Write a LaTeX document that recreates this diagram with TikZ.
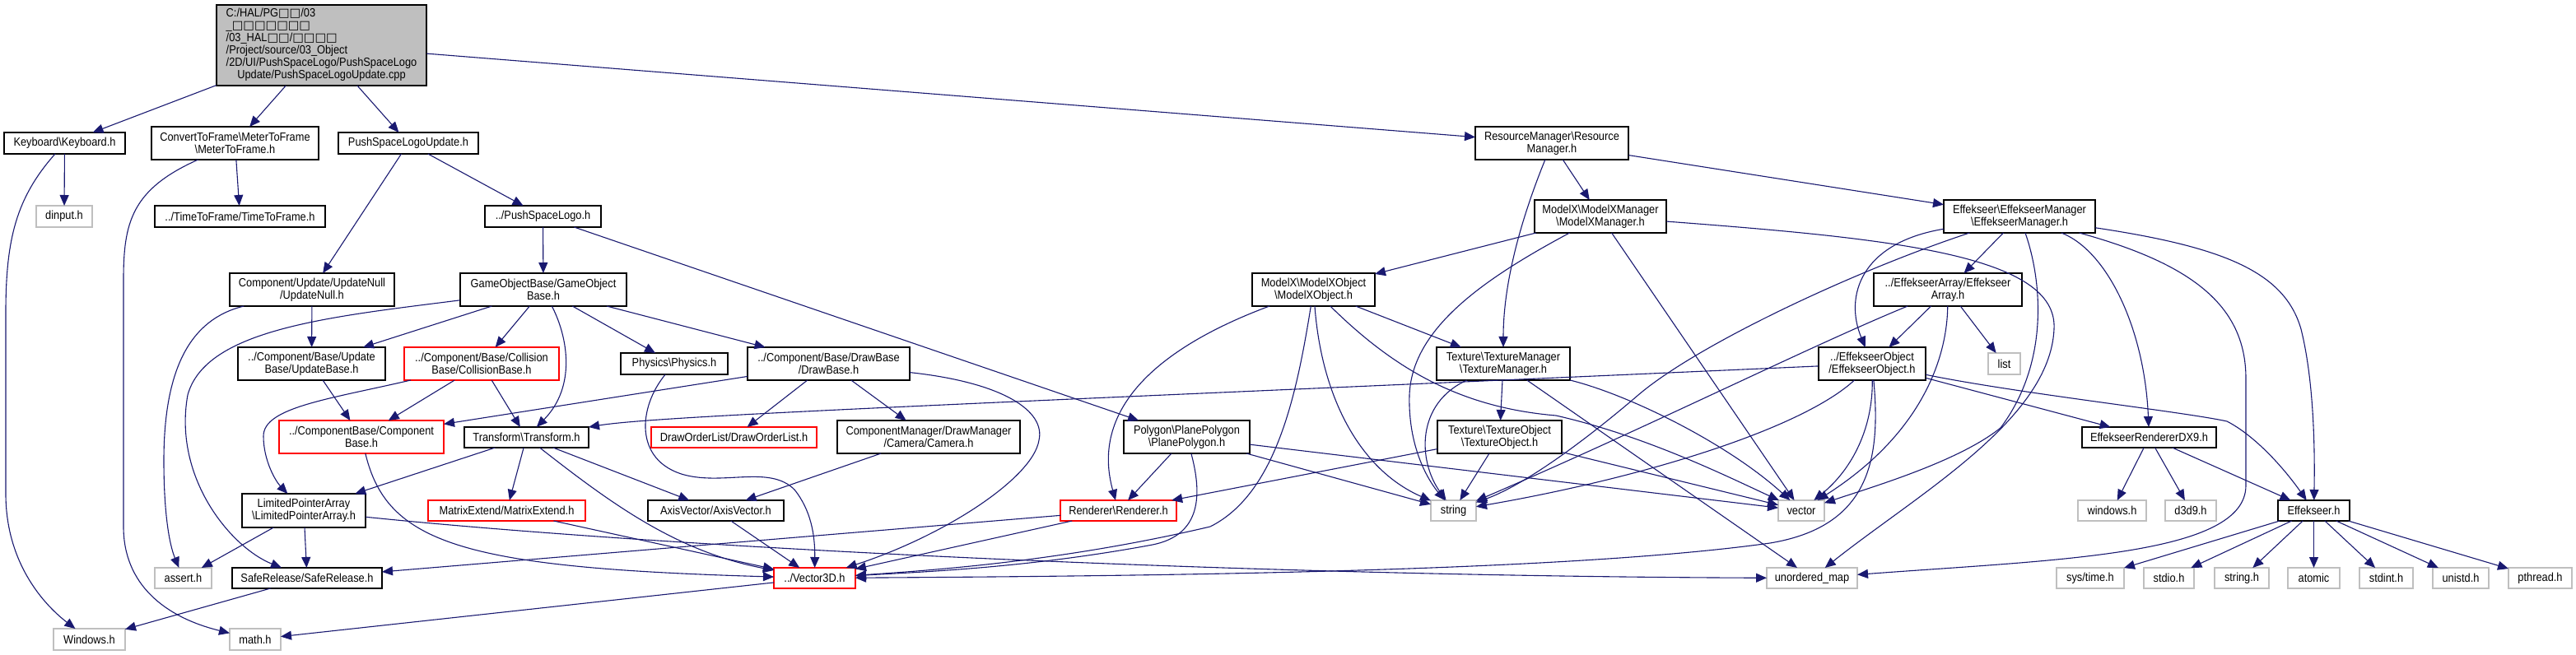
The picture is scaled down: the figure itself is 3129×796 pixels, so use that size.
\documentclass[tikz,border=0pt]{standalone}
\usepackage{fontspec}
\setmainfont{Liberation Sans}[FakeStretch=0.89]
\newfontfamily\symf{DejaVu Sans}
\usetikzlibrary{arrows.meta}
\definecolor{edgeblue}{HTML}{191970}
\definecolor{extgray}{HTML}{BFBFBF}
\newcommand\bsl{\textbackslash}
\newcommand\tf{{\symf\symbol{"25A1}}}
\newcommand\gnode[7]{\node[#6,minimum width={(#4-#2)*0.5pt},minimum height={(#5-#3)*0.5pt}] (#1) at ({(#2+#4)/2},{(#3+#5)/2}) {#7};}
\begin{document}
\begin{tikzpicture}[x=0.5pt,y=-0.5pt,
 box/.style={draw,line width=0.6pt,inner sep=0pt,outer sep=0pt,align=center,font=\fontsize{7.2pt}{7.4pt}\selectfont},
 doc/.style={box,draw=black,fill=white},
 ext/.style={box,draw=extgray,fill=white},
 trn/.style={box,draw=red,fill=white},
 rootbox/.style={box,draw=black,fill=extgray},
 ed/.style={draw=edgeblue,line width=0.55pt,-{Triangle[length=6.5pt,width=5.5pt]}}]
\useasboundingbox (0,0) rectangle (3129,796);
% nodes
\gnode{root}{263}{6}{518}{104}{rootbox}{\begin{tabular}{@{}l@{}}C:/HAL/PG\tf\tf/03\\ \_\tf\tf\tf\tf\tf\tf\tf\\ /03\_HAL\tf\tf/\tf\tf\tf\tf\\ /Project/source/03\_Object\\ /2D/UI/PushSpaceLogo/PushSpaceLogo\\ \multicolumn{1}{@{}c@{}}{Update/PushSpaceLogoUpdate.cpp}\end{tabular}}
\gnode{kb}{5}{161}{152}{187}{doc}{Keyboard\bsl Keyboard.h}
\gnode{m2f}{184}{154}{387}{194}{doc}{ConvertToFrame\bsl MeterToFrame\\\bsl MeterToFrame.h}
\gnode{psu}{411}{161}{581}{187}{doc}{PushSpaceLogoUpdate.h}
\gnode{dinput}{44}{250}{112}{276}{ext}{dinput.h}
\gnode{t2f}{188}{250}{395}{276}{doc}{../TimeToFrame/TimeToFrame.h}
\gnode{psl}{589}{250}{730}{276}{doc}{../PushSpaceLogo.h}
\gnode{unull}{279}{332}{479}{372}{doc}{Component/Update/UpdateNull\\/UpdateNull.h}
\gnode{gob}{559}{332}{761}{372}{doc}{GameObjectBase/GameObject\\Base.h}
\gnode{ubase}{289}{422}{468}{462}{doc}{../Component/Base/Update\\Base/UpdateBase.h}
\gnode{cbase}{491}{422}{679}{462}{trn}{../Component/Base/Collision\\Base/CollisionBase.h}
\gnode{phys}{754}{429}{884}{455}{doc}{Physics\bsl Physics.h}
\gnode{dbase}{908}{422}{1105}{462}{doc}{../Component/Base/DrawBase\\/DrawBase.h}
\gnode{compb}{339}{511}{539}{551}{trn}{../ComponentBase/Component\\Base.h}
\gnode{trans}{564}{519}{715}{544}{doc}{Transform\bsl Transform.h}
\gnode{dol}{791}{519}{992}{544}{trn}{DrawOrderList/DrawOrderList.h}
\gnode{cam}{1017}{511}{1239}{551}{doc}{ComponentManager/DrawManager\\/Camera/Camera.h}
\gnode{lpa}{294}{600}{444}{641}{doc}{LimitedPointerArray\\\bsl LimitedPointerArray.h}
\gnode{mext}{520}{608}{711}{633}{trn}{MatrixExtend/MatrixExtend.h}
\gnode{axis}{787}{608}{952}{633}{doc}{AxisVector/AxisVector.h}
\gnode{assert}{188}{690}{257}{715}{ext}{assert.h}
\gnode{safe}{282}{690}{464}{715}{doc}{SafeRelease/SafeRelease.h}
\gnode{win}{65}{764}{152}{790}{ext}{Windows.h}
\gnode{math}{279}{764}{341}{790}{ext}{math.h}
\gnode{v3d}{940}{690}{1039}{715}{trn}{../Vector3D.h}
\gnode{poly}{1365}{511}{1518}{551}{doc}{Polygon\bsl PlanePolygon\\\bsl PlanePolygon.h}
\gnode{rend}{1288}{608}{1429}{633}{trn}{Renderer\bsl Renderer.h}
\gnode{resm}{1792}{154}{1978}{194}{doc}{ResourceManager\bsl Resource\\Manager.h}
\gnode{mxm}{1864}{243}{2024}{283}{doc}{ModelX\bsl ModelXManager\\\bsl ModelXManager.h}
\gnode{mxo}{1521}{332}{1670}{372}{doc}{ModelX\bsl ModelXObject\\\bsl ModelXObject.h}
\gnode{texm}{1745}{422}{1907}{462}{doc}{Texture\bsl TextureManager\\\bsl TextureManager.h}
\gnode{texo}{1746}{511}{1897}{551}{doc}{Texture\bsl TextureObject\\\bsl TextureObject.h}
\gnode{str}{1738}{608}{1793}{633}{ext}{string}
\gnode{vec}{2160}{608}{2216}{633}{ext}{vector}
\gnode{umap}{2146}{690}{2256}{715}{ext}{unordered\_map}
\gnode{efm}{2361}{243}{2545}{283}{doc}{Effekseer\bsl EffekseerManager\\\bsl EffekseerManager.h}
\gnode{efa}{2276}{332}{2456}{372}{doc}{../EffekseerArray/Effekseer\\Array.h}
\gnode{efo}{2209}{422}{2339}{462}{doc}{../EffekseerObject\\/EffekseerObject.h}
\gnode{list}{2415}{429}{2454}{455}{ext}{list}
\gnode{efr}{2529}{519}{2692}{544}{doc}{EffekseerRendererDX9.h}
\gnode{wins}{2524}{608}{2607}{633}{ext}{windows.h}
\gnode{d3d9}{2630}{608}{2692}{633}{ext}{d3d9.h}
\gnode{eff}{2767}{608}{2854}{633}{doc}{Effekseer.h}
\gnode{systime}{2498}{690}{2580}{715}{ext}{sys/time.h}
\gnode{stdio}{2604}{690}{2665}{715}{ext}{stdio.h}
\gnode{stringh}{2690}{690}{2756}{715}{ext}{string.h}
\gnode{atomic}{2779}{690}{2842}{715}{ext}{atomic}
\gnode{stdint}{2866}{690}{2931}{715}{ext}{stdint.h}
\gnode{unistd}{2955}{690}{3023}{715}{ext}{unistd.h}
\gnode{pthread}{3047}{690}{3124}{715}{ext}{pthread.h}
% edges
\draw[ed] (root) -- (kb);
\draw[ed] (root) -- (m2f);
\draw[ed] (root) -- (psu);
\draw[ed] (root) -- (resm);
\draw[ed] (kb) -- (dinput);
\draw[ed] (kb) .. controls (20,240) and (7,290) .. (7,380) -- (7,600) .. controls (7,690) and (60,740) .. (win);
\draw[ed] (m2f) -- (t2f);
\draw[ed] (m2f) .. controls (160,230) and (150,270) .. (150,340) -- (150,640) .. controls (150,710) and (200,750) .. (math);
\draw[ed] (psu) -- (unull);
\draw[ed] (psu) -- (psl);
\draw[ed] (psl) -- (gob);
\draw[ed] (psl) -- (poly);
\draw[ed] (unull) -- (ubase);
\draw[ed] (unull) .. controls (230,388) and (199,450) .. (199,560) .. controls (199,620) and (205,660) .. (assert);
\draw[ed] (gob) -- (ubase);
\draw[ed] (gob) -- (cbase);
\draw[ed] (gob) .. controls (690,410) and (700,470) .. (trans);
\draw[ed] (gob) -- (phys);
\draw[ed] (gob) -- (dbase);
\draw[ed] (gob) .. controls (400,385) and (250,400) .. (228,480) .. controls (210,580) and (280,665) .. (safe);
\draw[ed] (ubase) -- (compb);
\draw[ed] (cbase) -- (compb);
\draw[ed] (cbase) -- (trans);
\draw[ed] (cbase) .. controls (400,485) and (320,495) .. (320,530) .. controls (320,560) and (335,585) .. (lpa);
\draw[ed] (trans) -- (lpa);
\draw[ed] (trans) -- (mext);
\draw[ed] (trans) .. controls (740,610) and (820,670) .. (v3d);
\draw[ed] (mext) -- (v3d);
\draw[ed] (trans) -- (axis);
\draw[ed] (compb) .. controls (470,660) and (560,690) .. (v3d);
\draw[ed] (lpa) -- (assert);
\draw[ed] (lpa) -- (safe);
\draw[ed] (lpa) .. controls (800,665) and (1500,700) .. (umap);
\draw[ed] (safe) -- (win);
\draw[ed] (v3d) -- (math);
\draw[ed] (phys) .. controls (775,495) and (770,560) .. (831,577) .. controls (880,590) and (935,565) .. (965,595) .. controls (985,620) and (990,650) .. (v3d);
\draw[ed] (dbase) -- (dol);
\draw[ed] (dbase) -- (cam);
\draw[ed] (dbase) -- (compb);
\draw[ed] (dbase) .. controls (1220,465) and (1270,500) .. (1262,535) .. controls (1255,580) and (1150,650) .. (v3d);
\draw[ed] (cam) -- (axis);
\draw[ed] (axis) -- (v3d);
\draw[ed] (poly) -- (rend);
\draw[ed] (poly) .. controls (1460,600) and (1460,650) .. (1400,662) .. controls (1250,690) and (1120,695) .. (v3d);
\draw[ed] (poly) -- (str);
\draw[ed] (poly) -- (vec);
\draw[ed] (rend) -- (v3d);
\draw[ed] (rend) -- (safe);
\draw[ed] (texo) -- (rend);
\draw[ed] (mxo) .. controls (1400,425) and (1325,500) .. (rend);
\draw[ed] (mxo) .. controls (1575,480) and (1550,600) .. (1470,640) .. controls (1300,680) and (1150,692) .. (v3d);
\draw[ed] (mxo) .. controls (1605,480) and (1650,570) .. (str);
\draw[ed] (mxo) -- (texm);
\draw[ed] (mxo) .. controls (1690,445) and (1770,495) .. (1890,505) .. controls (2000,530) and (2100,580) .. (vec);
\draw[ed] (mxm) -- (mxo);
\draw[ed] (mxm) .. controls (1800,340) and (1715,400) .. (1712,480) .. controls (1710,550) and (1740,590) .. (str);
\draw[ed] (mxm) -- (vec);
\draw[ed] (mxm) .. controls (2300,290) and (2500,310) .. (2495,400) .. controls (2490,510) and (2330,600) .. (umap);
\draw[ed] (resm) -- (mxm);
\draw[ed] (resm) .. controls (1850,260) and (1826,340) .. (texm);
\draw[ed] (resm) -- (efm);
\draw[ed] (efm) .. controls (2260,295) and (2240,360) .. (efo);
\draw[ed] (efm) .. controls (2250,330) and (2060,420) .. (1990,480) .. controls (1920,540) and (1850,590) .. (str);
\draw[ed] (efm) -- (efa);
\draw[ed] (efm) .. controls (2480,340) and (2490,440) .. (2430,520) .. controls (2380,560) and (2280,590) .. (vec);
\draw[ed] (efm) .. controls (2560,305) and (2605,400) .. (efr);
\draw[ed] (efm) .. controls (2660,320) and (2728,370) .. (2728,460) -- (2728,590) .. controls (2728,675) and (2500,680) .. (umap);
\draw[ed] (efm) .. controls (2700,300) and (2775,330) .. (2795,400) .. controls (2810,460) and (2812,540) .. (eff);
\draw[ed] (efa) -- (efo);
\draw[ed] (efa) .. controls (2200,420) and (2000,520) .. (str);
\draw[ed] (efa) .. controls (2365,440) and (2330,530) .. (vec);
\draw[ed] (efa) -- (list);
\draw[ed] (efo) .. controls (1200,490) and (800,505) .. (trans);
\draw[ed] (efo) .. controls (2190,520) and (2000,580) .. (str);
\draw[ed] (efo) .. controls (2275,520) and (2250,570) .. (vec);
\draw[ed] (efo) .. controls (2285,560) and (2270,640) .. (2150,660) .. controls (1900,695) and (1400,700) .. (v3d);
\draw[ed] (efo) -- (efr);
\draw[ed] (efo) .. controls (2450,478) and (2650,500) .. (2705,512) .. controls (2740,530) and (2775,570) .. (eff);
\draw[ed] (texm) -- (texo);
\draw[ed] (texm) .. controls (1720,490) and (1722,560) .. (str);
\draw[ed] (texm) .. controls (1980,480) and (2100,540) .. (vec);
\draw[ed] (texm) -- (umap);
\draw[ed] (texo) -- (str);
\draw[ed] (texo) -- (vec);
\draw[ed] (efr) -- (wins);
\draw[ed] (efr) -- (d3d9);
\draw[ed] (efr) -- (eff);
\draw[ed] (eff) -- (systime);
\draw[ed] (eff) -- (stdio);
\draw[ed] (eff) -- (stringh);
\draw[ed] (eff) -- (atomic);
\draw[ed] (eff) -- (stdint);
\draw[ed] (eff) -- (unistd);
\draw[ed] (eff) -- (pthread);
\end{tikzpicture}
\end{document}
